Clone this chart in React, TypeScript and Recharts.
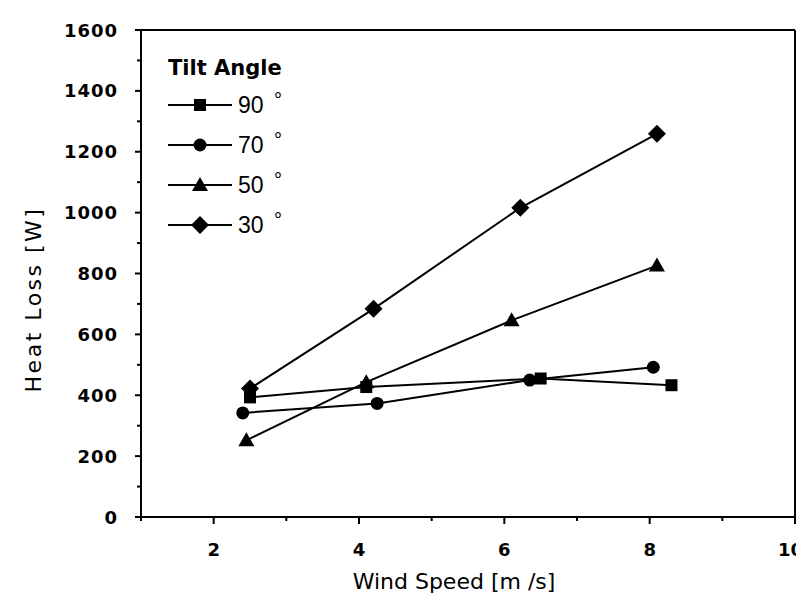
import { ScatterChart, Scatter, XAxis, YAxis, Legend } from 'recharts'

// wind speed [m/s] and heat loss [W] per tilt angle
const windSpeed90 = [2.5, 4.1, 6.5, 8.3]
const heatLoss90 = [393, 427, 455, 433]
const windSpeed70 = [2.4, 4.25, 6.35, 8.05]
const heatLoss70 = [342, 373, 450, 492]
const windSpeed50 = [2.45, 4.1, 6.1, 8.1]
const heatLoss50 = [252, 443, 646, 826]
const windSpeed30 = [2.5, 4.2, 6.22, 8.1]
const heatLoss30 = [422, 684, 1016, 1259]

const tiltAngles = ['90', '70', '50', '30']
const markerKinds = ['square', 'circle', 'triangle', 'diamond']
const xTicks = [1, 2, 3, 4, 5, 6, 7, 8, 9, 10]
const yTicks = [0, 100, 200, 300, 400, 500, 600, 700, 800, 900, 1000, 1100, 1200, 1300, 1400, 1500, 1600]

const toPoints = (xs: number[], ys: number[]) => xs.map((x, i) => ({ x, y: ys[i] }))

const series = [
  { name: tiltAngles[0], kind: markerKinds[0], data: toPoints(windSpeed90, heatLoss90) },
  { name: tiltAngles[1], kind: markerKinds[1], data: toPoints(windSpeed70, heatLoss70) },
  { name: tiltAngles[2], kind: markerKinds[2], data: toPoints(windSpeed50, heatLoss50) },
  { name: tiltAngles[3], kind: markerKinds[3], data: toPoints(windSpeed30, heatLoss30) },
]

const TICK_FONT = "'DejaVu Sans', sans-serif"
const LEGEND_FONT = "'Liberation Sans', Arial, sans-serif"

const Marker = ({ kind, cx, cy }: { kind: string; cx: number; cy: number }) => {
  if (kind === 'square') return <rect x={cx - 6} y={cy - 6} width={12} height={12} fill="#000" />
  if (kind === 'circle') return <circle cx={cx} cy={cy} r={6.5} fill="#000" />
  if (kind === 'triangle')
    return <polygon points={`${cx},${cy - 8} ${cx + 8},${cy + 6} ${cx - 8},${cy + 6}`} fill="#000" />
  return <polygon points={`${cx},${cy - 9} ${cx + 9},${cy} ${cx},${cy + 9} ${cx - 9},${cy}`} fill="#000" />
}

const BottomTick = ({ x, y, payload }: any) => {
  const major = payload.value % 2 === 0
  const last = payload.value === xTicks[xTicks.length - 1]
  return (
    <g>
      <line x1={x} x2={x} y1={y} y2={y + (major ? 7 : 4)} stroke="#000" strokeWidth={2} />
      {major && (
        <text
          x={last ? x + 8 : x}
          y={y + 39}
          textAnchor={last ? 'end' : 'middle'}
          fontFamily={TICK_FONT}
          fontWeight="bold"
          fontSize={18}
          fill="#000"
        >
          {payload.value}
        </text>
      )}
    </g>
  )
}

const TopTick = ({ x, y, payload }: any) => {
  const major = payload.value % 2 === 0
  return <line x1={x} x2={x} y1={y} y2={y - (major ? 7 : 4)} stroke="#000" strokeWidth={2} />
}

const LeftTick = ({ x, y, payload }: any) => {
  const major = payload.value % 200 === 0
  return (
    <g>
      <line x1={x} x2={x - (major ? 6 : 4)} y1={y} y2={y} stroke="#000" strokeWidth={2} />
      {major && (
        <text x={x - 23} y={y + 6.5} textAnchor="end" fontFamily={TICK_FONT} fontWeight="bold" fontSize={18} letterSpacing={1} fill="#000">
          {payload.value}
        </text>
      )}
    </g>
  )
}

const RightTick = ({ x, y, payload }: any) => {
  const major = payload.value % 200 === 0
  return <line x1={x} x2={x + (major ? 6 : 4)} y1={y} y2={y} stroke="#000" strokeWidth={2} />
}

const renderLegend = (props: any) => {
  const payload = [...(props.payload ?? [])].sort(
    (a: any, b: any) => tiltAngles.indexOf(String(a.value)) - tiltAngles.indexOf(String(b.value))
  )
  return (
    <svg width={150} height={200}>
      <text x={0} y={27} fontFamily={TICK_FONT} fontWeight="bold" fontSize={21} fill="#000">
        Tilt Angle
      </text>
      {payload.map((entry: any, i: number) => {
        const cy = 57 + i * 40
        const kind = markerKinds[tiltAngles.indexOf(String(entry.value))]
        return (
          <g key={entry.value}>
            <line x1={0} x2={64} y1={cy} y2={cy} stroke="#000" strokeWidth={2} />
            <Marker kind={kind} cx={32} cy={cy} />
            <text x={70} y={cy + 8} fontFamily={LEGEND_FONT} fontSize={23} fill="#000">
              {entry.value}
            </text>
            <text x={106} y={cy + 2} fontFamily={LEGEND_FONT} fontSize={20} fill="#000">
              °
            </text>
          </g>
        )
      })}
    </svg>
  )
}

const axisLine = { stroke: '#000', strokeWidth: 2 }

export default function App() {
  return (
    <div style={{ width: 796, height: 600, background: '#fff' }}>
      <ScatterChart width={796} height={600} margin={{ top: 21, right: 8, bottom: 11, left: 0 }}>
        <XAxis
          type="number"
          dataKey="x"
          domain={[1, 10]}
          ticks={xTicks}
          interval={0}
          height={80}
          tickSize={0}
          tickMargin={0}
          tickLine={false}
          axisLine={axisLine}
          tick={<BottomTick />}
          label={{
            content: ({ viewBox }: any) => (
              <text
                x={viewBox.x + viewBox.width / 2 - 14}
                y={viewBox.y + 72}
                textAnchor="middle"
                fontFamily={TICK_FONT}
                fontSize={22}
                fill="#000"
              >
                Wind Speed [m /s]
              </text>
            ),
          }}
        />
        <XAxis
          xAxisId="top"
          orientation="top"
          type="number"
          dataKey="x"
          domain={[1, 10]}
          ticks={xTicks}
          interval={0}
          height={1}
          tickSize={0}
          tickMargin={0}
          tickLine={false}
          axisLine={axisLine}
          tick={<TopTick />}
        />
        <YAxis
          type="number"
          dataKey="y"
          domain={[0, 1600]}
          ticks={yTicks}
          interval={0}
          width={133}
          tickSize={0}
          tickMargin={0}
          tickLine={false}
          axisLine={axisLine}
          tick={<LeftTick />}
          label={{
            content: ({ viewBox }: any) => {
              const lx = viewBox.x + 33
              const ly = viewBox.y + viewBox.height / 2 + 26
              return (
                <text
                  x={lx}
                  y={ly}
                  transform={`rotate(-90 ${lx} ${ly})`}
                  textAnchor="middle"
                  fontFamily={TICK_FONT}
                  fontSize={22}
                  letterSpacing={2.5}
                  fill="#000"
                >
                  Heat Loss [W]
                </text>
              )
            },
          }}
        />
        <YAxis
          yAxisId="right"
          orientation="right"
          type="number"
          dataKey="y"
          domain={[0, 1600]}
          ticks={yTicks}
          interval={0}
          width={1}
          tickSize={0}
          tickMargin={0}
          tickLine={false}
          axisLine={axisLine}
          tick={<RightTick />}
        />
        <Legend
          layout="horizontal"
          verticalAlign="middle"
          align="center"
          wrapperStyle={{ left: 160, top: 40, width: 150, height: 200 }}
          content={renderLegend}
        />
        {series.map((s) => (
          <Scatter
            key={s.name}
            name={s.name}
            data={s.data}
            fill="#000"
            line={{ stroke: '#000', strokeWidth: 2 }}
            lineType="joint"
            shape={(p: any) => <Marker kind={s.kind} cx={p.cx} cy={p.cy} />}
            isAnimationActive={false}
          />
        ))}
      </ScatterChart>
    </div>
  )
}
